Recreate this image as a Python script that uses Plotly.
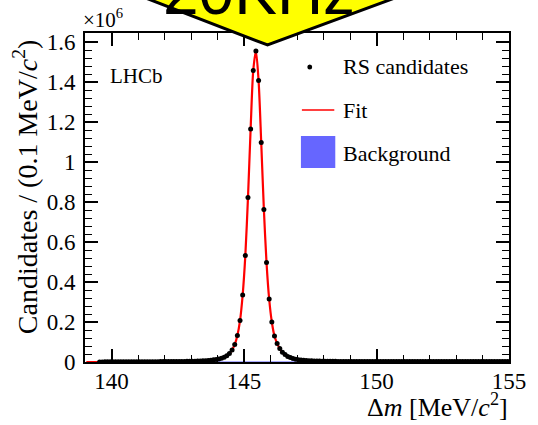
import numpy as np
import plotly.graph_objects as go

# ---------------- data (units of 10^6 candidates per 0.1 MeV/c^2) ----------------
# RS candidate bin centres start at 139.55 and step by 0.1 MeV/c^2
rs_start, bin_w = 139.55, 0.1
rs_counts = [
    0.0002, 0.0005, 0.0007, 0.0008, 0.0009, 0.0010, 0.0010, 0.0011, 0.0011, 0.0012,
    0.0012, 0.0013, 0.0013, 0.0014, 0.0014, 0.0015, 0.0015, 0.0016, 0.0016, 0.0017,
    0.0017, 0.0018, 0.0018, 0.0019, 0.0019, 0.0020, 0.0021, 0.0022, 0.0023, 0.0025,
    0.0026, 0.0028, 0.0030, 0.0032, 0.0035, 0.0038, 0.0042, 0.0047, 0.0053, 0.0060,
    0.0068, 0.0078, 0.0091, 0.0107, 0.0128, 0.0155, 0.0190, 0.0240, 0.0310, 0.0420,
    0.0600, 0.0880, 0.1330, 0.2070, 0.3350, 0.5330, 0.8220, 1.1650, 1.4580, 1.5550,
    1.4070, 1.0970, 0.7630, 0.4970, 0.3150, 0.2000, 0.1300, 0.0930, 0.0670, 0.0490,
    0.0370, 0.0280, 0.0220, 0.0175, 0.0142, 0.0118, 0.0100, 0.0086, 0.0075, 0.0066,
    0.0059, 0.0053, 0.0048, 0.0044, 0.0041, 0.0038, 0.0036, 0.0034, 0.0033, 0.0032,
    0.0031, 0.0030, 0.0029, 0.0029, 0.0028, 0.0028, 0.0027, 0.0027, 0.0027, 0.0026,
    0.0026, 0.0026, 0.0026, 0.0025, 0.0025, 0.0025, 0.0025, 0.0025, 0.0024, 0.0024,
    0.0024, 0.0024, 0.0024, 0.0024, 0.0023, 0.0023, 0.0023, 0.0023, 0.0023, 0.0023,
    0.0023, 0.0023, 0.0022, 0.0022, 0.0022, 0.0022, 0.0022, 0.0022, 0.0022, 0.0022,
    0.0022, 0.0022, 0.0022, 0.0021, 0.0021, 0.0021, 0.0021, 0.0021, 0.0021, 0.0021,
    0.0021, 0.0021, 0.0021, 0.0021, 0.0021, 0.0021, 0.0021, 0.0021, 0.0021, 0.0021,
    0.0021, 0.0021, 0.0021, 0.0021, 0.0021,
]
rs_x = [round(rs_start + i * bin_w, 2) for i in range(len(rs_counts))]

# Fit curve: zero below threshold (139.05 .. 139.45), then follows the data
fit_below = [0.0, 0.0, 0.0, 0.0, 0.0]
fit_counts = fit_below + rs_counts
fit_x = [round(139.05 + i * bin_w, 2) for i in range(len(fit_counts))]

# Background component (tiny, near zero)
bkg_x = [139.57, 140.0, 141.0, 142.0, 143.0, 144.0, 145.0, 146.0, 147.0, 148.0,
         149.0, 150.0, 151.0, 152.0, 153.0, 154.0, 155.0]
bkg_y = [0.0, 0.0007, 0.0010, 0.0012, 0.0013, 0.0014, 0.0015, 0.0016, 0.0017,
         0.0017, 0.0018, 0.0018, 0.0019, 0.0019, 0.0019, 0.0020, 0.0020]

x_range = [139, 155]
y_range = [0, 1.645]

# ---------------- layout geometry (pixels) ----------------
W, H = 538, 425
L, R, T, B = 85, 517, 33, 362


def px(xp):
    return (xp - L) / (R - L)


def py(yp):
    return (B - yp) / (B - T)


SERIF = "Liberation Serif, Times New Roman, serif"

fig = go.Figure()

fig.add_trace(go.Scatter(
    x=bkg_x, y=bkg_y, mode="lines", fill="tozeroy",
    line=dict(color="#6666ff", width=0.5), fillcolor="#6666ff",
    name="Background", showlegend=False))

fig.add_trace(go.Scatter(
    x=fit_x, y=fit_counts, mode="lines",
    line=dict(color="#ff0000", width=2.2, shape="spline", smoothing=0.8),
    name="Fit", showlegend=False))

fig.add_trace(go.Scatter(
    x=rs_x, y=rs_counts, mode="markers",
    marker=dict(color="black", size=5, symbol="circle"),
    name="RS candidates", showlegend=False))

axis_common = dict(
    showline=True, linecolor="black", linewidth=2, mirror="allticks",
    ticks="inside", ticklen=13, tickwidth=1.5, tickcolor="black",
    showgrid=False, zeroline=False,
    tickfont=dict(family=SERIF, size=23, color="black"),
)

fig.update_xaxes(
    range=x_range, dtick=5, tick0=140,
    minor=dict(dtick=1, tick0=140, ticks="inside", ticklen=7, tickcolor="black", tickwidth=1.2),
    ticklabelstandoff=-3,
    **axis_common)
fig.update_yaxes(
    range=y_range, dtick=0.2, tick0=0,
    minor=dict(dtick=0.04, tick0=0, ticks="inside", ticklen=7, tickcolor="black", tickwidth=1.2),
    ticklabelstandoff=3,
    **axis_common)

shapes = []
annotations = []

# legend (manual, ROOT style)
shapes.append(dict(type="circle", xref="paper", yref="paper",
                   x0=px(311.5), x1=px(316.5), y0=py(64.5), y1=py(69.5),
                   fillcolor="black", line=dict(color="black", width=0)))
shapes.append(dict(type="line", xref="paper", yref="paper",
                   x0=px(306), x1=px(339), y0=py(110), y1=py(110),
                   line=dict(color="#ff0000", width=1.5)))
shapes.append(dict(type="rect", xref="paper", yref="paper",
                   x0=px(305), x1=px(340), y0=py(168), y1=py(136),
                   fillcolor="#6666ff", line=dict(color="#6666ff", width=0)))
for txt, yc in [("RS candidates", 67), ("Fit", 110), ("Background", 153)]:
    annotations.append(dict(text=txt, xref="paper", yref="paper", x=px(346), y=py(yc),
                            xanchor="left", yanchor="middle", showarrow=False,
                            font=dict(family=SERIF, size=22, color="black")))

annotations.append(dict(text="LHCb", xref="paper", yref="paper", x=px(108), y=py(76),
                        xanchor="left", yanchor="middle", showarrow=False,
                        font=dict(family=SERIF, size=21, color="black")))

annotations.append(dict(text="×10<sup>6</sup>", xref="paper", yref="paper", x=px(81), y=py(34),
                        xanchor="left", yanchor="bottom", showarrow=False,
                        font=dict(family=SERIF, size=21, color="black")))

annotations.append(dict(text="Candidates / (0.1 MeV/<i>c</i><sup>2</sup>)",
                        xref="paper", yref="paper", x=px(24), y=py(38),
                        xanchor="center", yanchor="top", textangle=-90, showarrow=False,
                        font=dict(family=SERIF, size=28, color="black")))

annotations.append(dict(text="Δ<i>m</i> [MeV/<i>c</i><sup>2</sup>]",
                        xref="paper", yref="paper", x=px(518), y=py(424),
                        xanchor="right", yanchor="bottom", showarrow=False,
                        font=dict(family=SERIF, size=26, color="black")))

# yellow arrow overlay at the top
arrow_pts = [(86, -25), (271, 45), (464, -25)]
path = "M " + " L ".join(f"{px(a)},{py(b)}" for a, b in arrow_pts) + " Z"
shapes.append(dict(type="path", xref="paper", yref="paper", path=path,
                   fillcolor="#ffff00", line=dict(color="black", width=3), layer="above"))
annotations.append(dict(text="20KHz", xref="paper", yref="paper", x=px(262), y=py(30),
                        xanchor="center", yanchor="bottom", showarrow=False,
                        font=dict(family="Liberation Sans, Arial, sans-serif", size=64, color="black")))

fig.update_layout(
    width=W, height=H,
    margin=dict(l=L, r=W - R, t=T, b=H - B, pad=0),
    paper_bgcolor="white", plot_bgcolor="white",
    showlegend=False,
    shapes=shapes, annotations=annotations,
)

fig.write_html("out.html")
